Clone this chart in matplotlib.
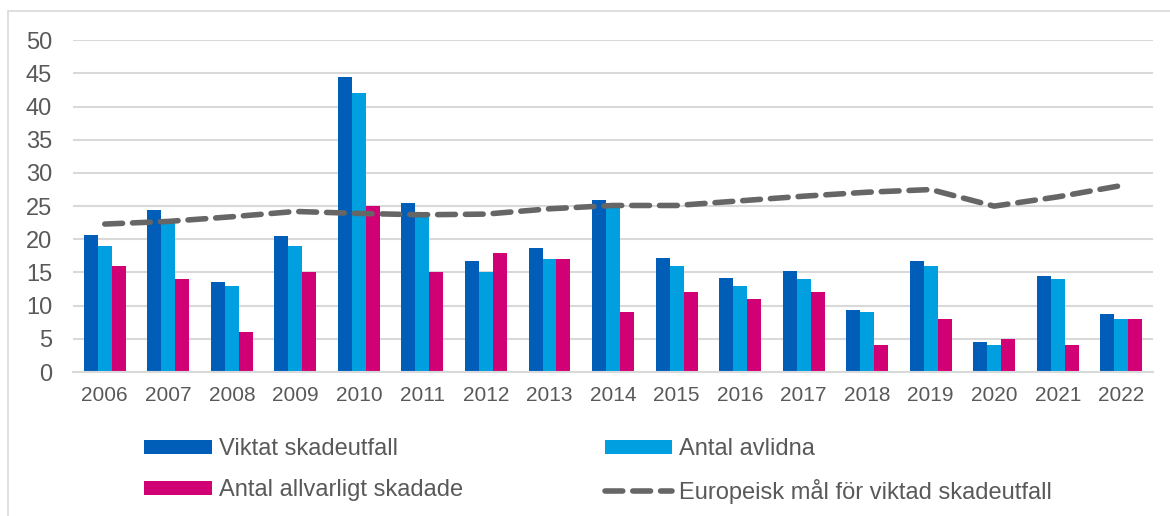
import numpy as np
import matplotlib
matplotlib.use('Agg')
import matplotlib.pyplot as plt
from matplotlib.patches import Rectangle

years = ['2006', '2007', '2008', '2009', '2010', '2011', '2012', '2013', '2014',
         '2015', '2016', '2017', '2018', '2019', '2020', '2021', '2022']
viktat = [20.6, 24.4, 13.6, 20.5, 44.5, 25.5, 16.8, 18.7, 26.0,
          17.2, 14.1, 15.2, 9.4, 16.8, 4.5, 14.4, 8.8]
avlidna = [19, 23, 13, 19, 42, 24, 15, 17, 25, 16, 13, 14, 9, 16, 4, 14, 8]
skadade = [16, 14, 6, 15, 25, 15, 18, 17, 9, 12, 11, 12, 4, 8, 5, 4, 8]
eu_mal = [22.3, 22.7, 23.4, 24.2, 23.9, 23.7, 23.8, 24.6, 25.1,
          25.1, 25.8, 26.5, 27.1, 27.5, 25.0, 26.4, 28.1]

plt.rcParams['font.family'] = ['Liberation Sans', 'DejaVu Sans']
text_color = '#595959'

fig = plt.figure(figsize=(11.7, 5.16), dpi=100)
ax = fig.add_axes([0.0624, 0.279, 0.9231, 0.643])

x = np.arange(len(years))
w = 0.22
b1 = ax.bar(x - w, viktat, w, color='#005EB8', label='Viktat skadeutfall', zorder=2)
b2 = ax.bar(x, avlidna, w, color='#009FDF', label='Antal avlidna', zorder=2)
b3 = ax.bar(x + w, skadade, w, color='#D10074', label='Antal allvarligt skadade', zorder=2)
ln, = ax.plot(x, eu_mal, color='#666666', lw=4, dashes=(3.2, 1.8),
              dash_capstyle='round', label='Europeisk mål för viktad skadeutfall', zorder=3)

ax.set_xlim(-0.5, len(years) - 0.5)
ax.set_ylim(0, 50)
ax.set_yticks(range(0, 51, 5))
ax.set_xticks(x)
ax.set_xticklabels(years)
ax.yaxis.grid(True, color='#d9d9d9', lw=1.5, zorder=0)
ax.set_axisbelow(True)
for s in ['top', 'right', 'left']:
    ax.spines[s].set_visible(False)
ax.spines['bottom'].set_color('#d9d9d9')
ax.spines['bottom'].set_linewidth(1.5)
ax.tick_params(axis='both', length=0, labelcolor=text_color)
ax.tick_params(axis='y', pad=15, labelsize=17)
ax.tick_params(axis='x', pad=10, labelsize=15)

fig.legend([b1, b3, b2, ln],
           ['Viktat skadeutfall', 'Antal allvarligt skadade', 'Antal avlidna',
            'Europeisk mål för viktad skadeutfall'],
           ncol=2, loc='center left', bbox_to_anchor=(144 / 1170, 0.087), frameon=False,
           fontsize=17, labelcolor=text_color, handlelength=2.87, handleheight=0.54,
           handletextpad=0.3, columnspacing=6.0, labelspacing=0.8,
           borderaxespad=0, borderpad=0)

fig.patches.append(Rectangle((8 / 1170, -0.1), 1.1, 1 - 11 / 516 + 0.1,
                             transform=fig.transFigure, fill=False,
                             edgecolor='#d9d9d9', lw=1.2))

fig.savefig('out.png', dpi=100)
